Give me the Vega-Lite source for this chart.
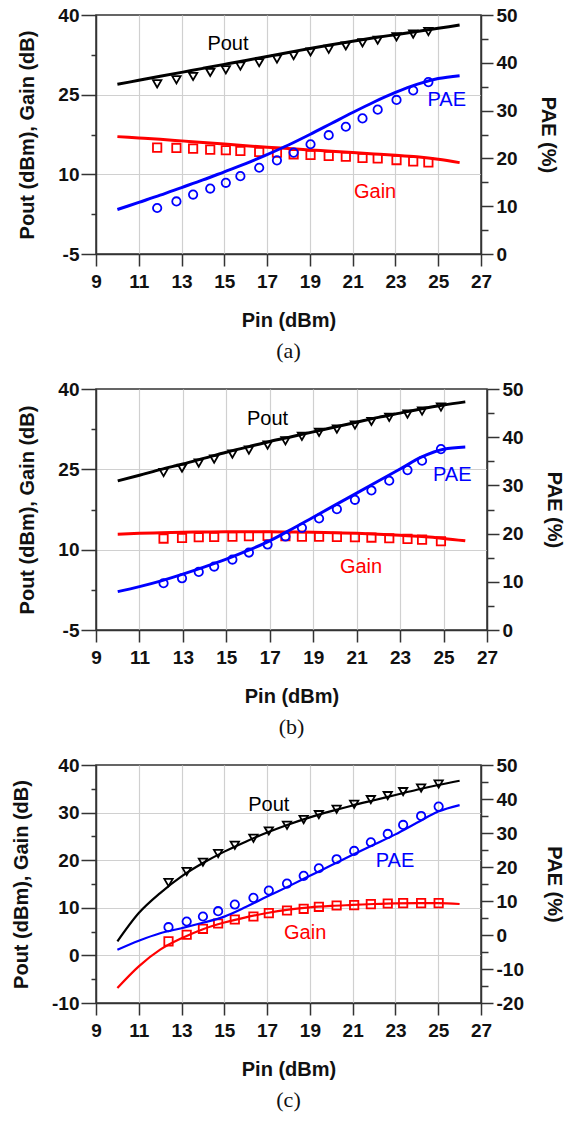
{
"$schema": "https://vega.github.io/schema/vega-lite/v6.json",
"padding": {"left": 10, "top": 5, "right": 5, "bottom": 5},
"background": "white",
"spacing": 16,
"columns": 1,
"config": {
 "view": {"stroke": "#333", "strokeWidth": 1.5},
 "axis": {"domainColor": "#333", "domainWidth": 1.5, "tickColor": "#333", "tickWidth": 1.5, "labelFont": "Liberation Sans", "labelFontSize": 19, "labelFontWeight": "bold", "labelColor": "#111", "titleFont": "Liberation Sans", "titleFontSize": 20, "titleFontWeight": "bold", "titleColor": "#111", "gridColor": "#d0d0d0", "gridWidth": 1.2, "labelOverlap": false, "labelFlush": false, "labelBound": false},
 "title": {"font": "Liberation Serif", "fontSize": 22, "fontWeight": "normal", "color": "#111", "orient": "bottom", "offset": 11, "anchor": "middle", "frame": "group"}
},
"datasets": {
 "La": [
  {"s":"Pout","x":10,"y":26.95},{"s":"Pout","x":11,"y":27.7},{"s":"Pout","x":12,"y":28.45},{"s":"Pout","x":13,"y":29.2},{"s":"Pout","x":14,"y":29.95},{"s":"Pout","x":15,"y":30.7},{"s":"Pout","x":16,"y":31.45},{"s":"Pout","x":17,"y":32.2},{"s":"Pout","x":18,"y":32.95},{"s":"Pout","x":19,"y":33.7},{"s":"Pout","x":20,"y":34.4},{"s":"Pout","x":21,"y":35.05},{"s":"Pout","x":22,"y":35.7},{"s":"Pout","x":23,"y":36.3},{"s":"Pout","x":24,"y":36.9},{"s":"Pout","x":25,"y":37.5},{"s":"Pout","x":26,"y":38.1},
  {"s":"Gain","x":10,"y":17.1},{"s":"Gain","x":11,"y":16.85},{"s":"Gain","x":12,"y":16.6},{"s":"Gain","x":13,"y":16.3},{"s":"Gain","x":14,"y":16.0},{"s":"Gain","x":15,"y":15.7},{"s":"Gain","x":16,"y":15.4},{"s":"Gain","x":17,"y":15.1},{"s":"Gain","x":18,"y":14.85},{"s":"Gain","x":19,"y":14.6},{"s":"Gain","x":20,"y":14.35},{"s":"Gain","x":21,"y":14.1},{"s":"Gain","x":22,"y":13.85},{"s":"Gain","x":23,"y":13.6},{"s":"Gain","x":24,"y":13.3},{"s":"Gain","x":25,"y":12.85},{"s":"Gain","x":26,"y":12.2},
  {"s":"PAE","x":10,"y":9.3},{"s":"PAE","x":11,"y":10.8},{"s":"PAE","x":12,"y":12.3},{"s":"PAE","x":13,"y":13.9},{"s":"PAE","x":14,"y":15.5},{"s":"PAE","x":15,"y":17.2},{"s":"PAE","x":16,"y":18.9},{"s":"PAE","x":17,"y":20.8},{"s":"PAE","x":18,"y":22.8},{"s":"PAE","x":19,"y":25.0},{"s":"PAE","x":20,"y":27.3},{"s":"PAE","x":21,"y":29.6},{"s":"PAE","x":22,"y":31.8},{"s":"PAE","x":23,"y":33.8},{"s":"PAE","x":24,"y":35.5},{"s":"PAE","x":25,"y":36.7},{"s":"PAE","x":26,"y":37.3}
 ],
 "Pa": [
  {"s":"Pout","x":11.86,"y":27.04},{"s":"Pout","x":12.76,"y":27.8},{"s":"Pout","x":13.54,"y":28.43},{"s":"Pout","x":14.34,"y":29.19},{"s":"Pout","x":15.07,"y":29.7},{"s":"Pout","x":15.75,"y":30.39},{"s":"Pout","x":16.63,"y":31.02},{"s":"Pout","x":17.46,"y":31.72},{"s":"Pout","x":18.24,"y":32.35},{"s":"Pout","x":19.03,"y":33.05},{"s":"Pout","x":19.88,"y":33.55},{"s":"Pout","x":20.68,"y":34.18},{"s":"Pout","x":21.46,"y":34.75},{"s":"Pout","x":22.17,"y":35.26},{"s":"Pout","x":23.05,"y":35.89},{"s":"Pout","x":23.83,"y":36.4},{"s":"Pout","x":24.54,"y":36.9},
  {"s":"Gain","x":11.86,"y":15.03},{"s":"Gain","x":12.76,"y":14.97},{"s":"Gain","x":13.54,"y":14.84},{"s":"Gain","x":14.34,"y":14.65},{"s":"Gain","x":15.07,"y":14.53},{"s":"Gain","x":15.75,"y":14.4},{"s":"Gain","x":16.63,"y":14.21},{"s":"Gain","x":17.46,"y":14.08},{"s":"Gain","x":18.24,"y":13.77},{"s":"Gain","x":19.03,"y":13.64},{"s":"Gain","x":19.88,"y":13.45},{"s":"Gain","x":20.68,"y":13.32},{"s":"Gain","x":21.46,"y":13.07},{"s":"Gain","x":22.17,"y":13.0},{"s":"Gain","x":23.05,"y":12.69},{"s":"Gain","x":23.83,"y":12.44},{"s":"Gain","x":24.54,"y":12.25},
  {"s":"PAE","x":11.86,"y":9.62},{"s":"PAE","x":12.76,"y":11.0},{"s":"PAE","x":13.54,"y":12.43},{"s":"PAE","x":14.34,"y":13.69},{"s":"PAE","x":15.07,"y":14.89},{"s":"PAE","x":15.75,"y":16.29},{"s":"PAE","x":16.63,"y":18.05},{"s":"PAE","x":17.46,"y":19.59},{"s":"PAE","x":18.24,"y":21.21},{"s":"PAE","x":19.03,"y":22.96},{"s":"PAE","x":19.88,"y":24.86},{"s":"PAE","x":20.68,"y":26.62},{"s":"PAE","x":21.46,"y":28.37},{"s":"PAE","x":22.17,"y":30.2},{"s":"PAE","x":23.05,"y":32.23},{"s":"PAE","x":23.83,"y":34.2},{"s":"PAE","x":24.54,"y":35.96}
 ],
 "Ta": [{"s":"Pout","x":15.17,"y":34.6},{"s":"Gain","x":22.05,"y":6.7},{"s":"PAE","x":25.4,"y":32.3}],
 "Lb": [
  {"s":"Pout","x":10,"y":22.85},{"s":"Pout","x":11,"y":23.9},{"s":"Pout","x":12,"y":25.0},{"s":"Pout","x":13,"y":26.0},{"s":"Pout","x":14,"y":27.1},{"s":"Pout","x":15,"y":28.2},{"s":"Pout","x":16,"y":29.2},{"s":"Pout","x":17,"y":30.2},{"s":"Pout","x":18,"y":31.1},{"s":"Pout","x":19,"y":32.0},{"s":"Pout","x":20,"y":32.9},{"s":"Pout","x":21,"y":33.8},{"s":"Pout","x":22,"y":34.7},{"s":"Pout","x":23,"y":35.5},{"s":"Pout","x":24,"y":36.3},{"s":"Pout","x":25,"y":37.0},{"s":"Pout","x":26,"y":37.6},
  {"s":"Gain","x":10,"y":12.9},{"s":"Gain","x":11,"y":13.05},{"s":"Gain","x":12,"y":13.15},{"s":"Gain","x":13,"y":13.25},{"s":"Gain","x":14,"y":13.3},{"s":"Gain","x":15,"y":13.35},{"s":"Gain","x":16,"y":13.35},{"s":"Gain","x":17,"y":13.35},{"s":"Gain","x":18,"y":13.3},{"s":"Gain","x":19,"y":13.25},{"s":"Gain","x":20,"y":13.15},{"s":"Gain","x":21,"y":13.05},{"s":"Gain","x":22,"y":12.9},{"s":"Gain","x":23,"y":12.7},{"s":"Gain","x":24,"y":12.45},{"s":"Gain","x":25,"y":12.1},{"s":"Gain","x":26,"y":11.65},
  {"s":"PAE","x":10,"y":7.96},{"s":"PAE","x":11,"y":9.0},{"s":"PAE","x":12,"y":10.2},{"s":"PAE","x":13,"y":11.6},{"s":"PAE","x":14,"y":13.1},{"s":"PAE","x":15,"y":14.7},{"s":"PAE","x":16,"y":16.5},{"s":"PAE","x":17,"y":18.5},{"s":"PAE","x":18,"y":20.9},{"s":"PAE","x":19,"y":23.4},{"s":"PAE","x":20,"y":25.9},{"s":"PAE","x":21,"y":28.4},{"s":"PAE","x":22,"y":30.9},{"s":"PAE","x":23,"y":33.4},{"s":"PAE","x":24,"y":35.9},{"s":"PAE","x":25,"y":37.5},{"s":"PAE","x":26,"y":37.95}
 ],
 "Pb": [
  {"s":"Pout","x":12.11,"y":24.41},{"s":"Pout","x":12.96,"y":25.22},{"s":"Pout","x":13.73,"y":26.16},{"s":"Pout","x":14.44,"y":26.91},{"s":"Pout","x":15.28,"y":27.84},{"s":"Pout","x":16.04,"y":28.59},{"s":"Pout","x":16.9,"y":29.53},{"s":"Pout","x":17.72,"y":30.34},{"s":"Pout","x":18.48,"y":31.15},{"s":"Pout","x":19.27,"y":31.9},{"s":"Pout","x":20.09,"y":32.52},{"s":"Pout","x":20.92,"y":33.27},{"s":"Pout","x":21.68,"y":33.95},{"s":"Pout","x":22.5,"y":34.7},{"s":"Pout","x":23.34,"y":35.32},{"s":"Pout","x":24.01,"y":35.89},{"s":"Pout","x":24.88,"y":36.63},
  {"s":"Gain","x":12.11,"y":12.07},{"s":"Gain","x":12.96,"y":12.19},{"s":"Gain","x":13.73,"y":12.32},{"s":"Gain","x":14.44,"y":12.38},{"s":"Gain","x":15.28,"y":12.44},{"s":"Gain","x":16.04,"y":12.51},{"s":"Gain","x":16.9,"y":12.57},{"s":"Gain","x":17.72,"y":12.51},{"s":"Gain","x":18.48,"y":12.44},{"s":"Gain","x":19.27,"y":12.44},{"s":"Gain","x":20.09,"y":12.38},{"s":"Gain","x":20.92,"y":12.32},{"s":"Gain","x":21.68,"y":12.26},{"s":"Gain","x":22.5,"y":12.13},{"s":"Gain","x":23.34,"y":12.01},{"s":"Gain","x":24.01,"y":11.88},{"s":"Gain","x":24.88,"y":11.57},
  {"s":"PAE","x":12.11,"y":9.7},{"s":"PAE","x":12.96,"y":10.73},{"s":"PAE","x":13.73,"y":12.05},{"s":"PAE","x":14.44,"y":13.16},{"s":"PAE","x":15.28,"y":14.61},{"s":"PAE","x":16.04,"y":16.07},{"s":"PAE","x":16.9,"y":17.73},{"s":"PAE","x":17.72,"y":19.39},{"s":"PAE","x":18.48,"y":21.19},{"s":"PAE","x":19.27,"y":23.13},{"s":"PAE","x":20.09,"y":25.07},{"s":"PAE","x":20.92,"y":27.01},{"s":"PAE","x":21.68,"y":28.95},{"s":"PAE","x":22.5,"y":30.96},{"s":"PAE","x":23.34,"y":33.17},{"s":"PAE","x":24.01,"y":35.11},{"s":"PAE","x":24.88,"y":37.53}
 ],
 "Tb": [{"s":"Pout","x":16.9,"y":34.4},{"s":"Gain","x":21.2,"y":6.8},{"s":"PAE","x":25.4,"y":32.1}],
 "Lc": [
  {"s":"Pout","x":10,"y":2.94},{"s":"Pout","x":11,"y":8.9},{"s":"Pout","x":12,"y":13.1},{"s":"Pout","x":13,"y":16.6},{"s":"Pout","x":14,"y":19.4},{"s":"Pout","x":15,"y":21.8},{"s":"Pout","x":16,"y":23.9},{"s":"Pout","x":17,"y":25.8},{"s":"Pout","x":18,"y":27.5},{"s":"Pout","x":19,"y":29.0},{"s":"Pout","x":20,"y":30.3},{"s":"Pout","x":21,"y":31.5},{"s":"Pout","x":22,"y":32.6},{"s":"Pout","x":23,"y":33.7},{"s":"Pout","x":24,"y":34.8},{"s":"Pout","x":25,"y":35.8},{"s":"Pout","x":26,"y":36.7},
  {"s":"Gain","x":10,"y":-6.85},{"s":"Gain","x":11,"y":-2.3},{"s":"Gain","x":12,"y":1.2},{"s":"Gain","x":13,"y":3.6},{"s":"Gain","x":14,"y":5.5},{"s":"Gain","x":15,"y":6.9},{"s":"Gain","x":16,"y":8.0},{"s":"Gain","x":17,"y":8.9},{"s":"Gain","x":18,"y":9.6},{"s":"Gain","x":19,"y":10.1},{"s":"Gain","x":20,"y":10.4},{"s":"Gain","x":21,"y":10.6},{"s":"Gain","x":22,"y":10.8},{"s":"Gain","x":23,"y":10.95},{"s":"Gain","x":24,"y":11.0},{"s":"Gain","x":25,"y":11.0},{"s":"Gain","x":26,"y":10.8},
  {"s":"PAE","x":10,"y":-4.36},{"s":"PAE","x":11,"y":-1.7},{"s":"PAE","x":12,"y":0.5},{"s":"PAE","x":13,"y":2.0},{"s":"PAE","x":14,"y":3.6},{"s":"PAE","x":15,"y":5.4},{"s":"PAE","x":16,"y":8.2},{"s":"PAE","x":17,"y":11.3},{"s":"PAE","x":18,"y":14.3},{"s":"PAE","x":19,"y":17.4},{"s":"PAE","x":20,"y":20.5},{"s":"PAE","x":21,"y":23.6},{"s":"PAE","x":22,"y":26.6},{"s":"PAE","x":23,"y":29.6},{"s":"PAE","x":24,"y":33.0},{"s":"PAE","x":25,"y":36.3},{"s":"PAE","x":26,"y":38.2}
 ],
 "Pc": [
  {"s":"Pout","x":12.39,"y":15.31},{"s":"Pout","x":13.24,"y":17.62},{"s":"Pout","x":14.0,"y":19.58},{"s":"Pout","x":14.71,"y":21.4},{"s":"Pout","x":15.49,"y":23.15},{"s":"Pout","x":16.36,"y":24.62},{"s":"Pout","x":17.08,"y":26.15},{"s":"Pout","x":17.93,"y":27.34},{"s":"Pout","x":18.71,"y":28.53},{"s":"Pout","x":19.42,"y":29.58},{"s":"Pout","x":20.25,"y":30.7},{"s":"Pout","x":21.07,"y":31.75},{"s":"Pout","x":21.85,"y":32.73},{"s":"Pout","x":22.64,"y":33.57},{"s":"Pout","x":23.36,"y":34.41},{"s":"Pout","x":24.2,"y":35.17},{"s":"Pout","x":25.02,"y":36.01},
  {"s":"Gain","x":12.39,"y":2.94},{"s":"Gain","x":13.24,"y":4.34},{"s":"Gain","x":14.0,"y":5.59},{"s":"Gain","x":14.71,"y":6.71},{"s":"Gain","x":15.49,"y":7.55},{"s":"Gain","x":16.36,"y":8.18},{"s":"Gain","x":17.08,"y":8.88},{"s":"Gain","x":17.93,"y":9.44},{"s":"Gain","x":18.71,"y":9.79},{"s":"Gain","x":19.42,"y":10.21},{"s":"Gain","x":20.25,"y":10.49},{"s":"Gain","x":21.07,"y":10.56},{"s":"Gain","x":21.85,"y":10.77},{"s":"Gain","x":22.64,"y":10.91},{"s":"Gain","x":23.36,"y":10.98},{"s":"Gain","x":24.2,"y":10.98},{"s":"Gain","x":25.02,"y":10.98},
  {"s":"PAE","x":12.39,"y":2.3},{"s":"PAE","x":13.24,"y":3.97},{"s":"PAE","x":14.0,"y":5.44},{"s":"PAE","x":14.71,"y":7.0},{"s":"PAE","x":15.49,"y":8.96},{"s":"PAE","x":16.36,"y":10.92},{"s":"PAE","x":17.08,"y":13.08},{"s":"PAE","x":17.93,"y":15.13},{"s":"PAE","x":18.71,"y":17.39},{"s":"PAE","x":19.42,"y":19.64},{"s":"PAE","x":20.25,"y":22.29},{"s":"PAE","x":21.07,"y":24.73},{"s":"PAE","x":21.85,"y":27.28},{"s":"PAE","x":22.64,"y":29.73},{"s":"PAE","x":23.36,"y":32.37},{"s":"PAE","x":24.2,"y":35.01},{"s":"PAE","x":25.02,"y":37.76}
 ],
 "Tc": [{"s":"Pout","x":17.08,"y":31.5},{"s":"Gain","x":18.78,"y":4.7},{"s":"PAE","x":22.98,"y":21.9}]
},
"concat": [
 {
  "width": 385, "height": 239,
  "title": {"text": "(a)"},
  "layer": [
   {
    "encoding": {
     "x": {"field": "x", "type": "quantitative", "scale": {"domain": [9, 27], "nice": false, "zero": false}, "axis": {"title": "Pin (dBm)", "values": [9,10,11,12,13,14,15,16,17,18,19,20,21,22,23,24,25,26,27], "labelExpr": "datum.value % 2 == 1 ? '' + datum.value : ''", "tickSize": {"condition": {"test": "datum.value % 2 == 1", "value": 12}, "value": 7}, "labelPadding": 6, "titlePadding": 19, "grid": true, "gridOpacity": {"condition": {"test": "datum.value % 2 == 1 && datum.value > 9 && datum.value < 27", "value": 1}, "value": 0}}},
     "y": {"field": "y", "type": "quantitative", "scale": {"domain": [-5, 40], "nice": false, "zero": false}, "axis": {"orient": "left", "title": "Pout (dBm), Gain (dB)", "values": [-5, 2.5, 10, 17.5, 25, 32.5, 40], "labelExpr": "(datum.value + 5) % 15 == 0 ? '' + datum.value : ''", "tickSize": {"condition": {"test": "(datum.value + 5) % 15 == 0", "value": 15}, "value": 5}, "labelPadding": 2, "titlePadding": 20, "grid": true, "gridOpacity": {"condition": {"test": "datum.value == 10 || datum.value == 25", "value": 1}, "value": 0}}}
    },
    "layer": [
     {"data": {"name": "La"}, "transform": [{"filter": "datum.s != 'PAE'"}], "mark": {"type": "line", "strokeWidth": 3, "interpolate": "monotone"}, "encoding": {"color": {"field": "s", "type": "nominal", "scale": {"domain": ["Pout", "Gain", "PAE"], "range": ["#000000", "#ff0000", "#0000ff"]}, "legend": null}}},
     {"data": {"name": "Pa"}, "transform": [{"filter": "datum.s != 'PAE'"}], "mark": {"type": "point", "filled": false, "strokeWidth": 1.8, "size": 70, "opacity": 1}, "encoding": {"color": {"field": "s", "type": "nominal", "legend": null}, "shape": {"field": "s", "type": "nominal", "scale": {"domain": ["Pout", "Gain", "PAE"], "range": ["triangle-down", "square", "circle"]}, "legend": null}}},
     {"data": {"name": "Ta"}, "transform": [{"filter": "datum.s != 'PAE'"}], "mark": {"type": "text", "font": "Liberation Sans", "fontSize": 20, "align": "center", "baseline": "middle"}, "encoding": {"text": {"field": "s"}, "color": {"field": "s", "type": "nominal", "legend": null}}}
    ]
   },
   {
    "encoding": {
     "x": {"field": "x", "type": "quantitative", "scale": {"domain": [9, 27], "nice": false, "zero": false}},
     "y": {"field": "y", "type": "quantitative", "scale": {"domain": [0, 50], "nice": false, "zero": false}, "axis": {"orient": "right", "title": "PAE (%)", "values": [0,5,10,15,20,25,30,35,40,45,50], "labelExpr": "datum.value % 10 == 0 ? '' + datum.value : ''", "tickSize": {"condition": {"test": "datum.value % 10 == 0", "value": 12}, "value": 7}, "labelPadding": 3, "titlePadding": 20, "grid": false}}
    },
    "layer": [
     {"data": {"name": "La"}, "transform": [{"filter": "datum.s == 'PAE'"}], "mark": {"type": "line", "strokeWidth": 3, "interpolate": "monotone"}, "encoding": {"color": {"field": "s", "type": "nominal", "legend": null}}},
     {"data": {"name": "Pa"}, "transform": [{"filter": "datum.s == 'PAE'"}], "mark": {"type": "point", "filled": false, "strokeWidth": 1.8, "size": 70, "opacity": 1}, "encoding": {"color": {"field": "s", "type": "nominal", "legend": null}, "shape": {"field": "s", "type": "nominal", "legend": null}}},
     {"data": {"name": "Ta"}, "transform": [{"filter": "datum.s == 'PAE'"}], "mark": {"type": "text", "font": "Liberation Sans", "fontSize": 20, "align": "center", "baseline": "middle"}, "encoding": {"text": {"field": "s"}, "color": {"field": "s", "type": "nominal", "legend": null}}}
    ]
   }
  ],
  "resolve": {"scale": {"y": "independent"}}
 },
 {
  "width": 391, "height": 241,
  "title": {"text": "(b)"},
  "layer": [
   {
    "encoding": {
     "x": {"field": "x", "type": "quantitative", "scale": {"domain": [9, 27], "nice": false, "zero": false}, "axis": {"title": "Pin (dBm)", "values": [9,10,11,12,13,14,15,16,17,18,19,20,21,22,23,24,25,26,27], "labelExpr": "datum.value % 2 == 1 ? '' + datum.value : ''", "tickSize": {"condition": {"test": "datum.value % 2 == 1", "value": 12}, "value": 7}, "labelPadding": 6, "titlePadding": 19, "grid": true, "gridOpacity": {"condition": {"test": "datum.value % 2 == 1 && datum.value > 9 && datum.value < 27", "value": 1}, "value": 0}}},
     "y": {"field": "y", "type": "quantitative", "scale": {"domain": [-5, 40], "nice": false, "zero": false}, "axis": {"orient": "left", "title": "Pout (dBm), Gain (dB)", "values": [-5, 2.5, 10, 17.5, 25, 32.5, 40], "labelExpr": "(datum.value + 5) % 15 == 0 ? '' + datum.value : ''", "tickSize": {"condition": {"test": "(datum.value + 5) % 15 == 0", "value": 15}, "value": 5}, "labelPadding": 2, "titlePadding": 20, "grid": true, "gridOpacity": {"condition": {"test": "datum.value == 10 || datum.value == 25", "value": 1}, "value": 0}}}
    },
    "layer": [
     {"data": {"name": "Lb"}, "transform": [{"filter": "datum.s != 'PAE'"}], "mark": {"type": "line", "strokeWidth": 3, "interpolate": "monotone"}, "encoding": {"color": {"field": "s", "type": "nominal", "scale": {"domain": ["Pout", "Gain", "PAE"], "range": ["#000000", "#ff0000", "#0000ff"]}, "legend": null}}},
     {"data": {"name": "Pb"}, "transform": [{"filter": "datum.s != 'PAE'"}], "mark": {"type": "point", "filled": false, "strokeWidth": 1.8, "size": 70, "opacity": 1}, "encoding": {"color": {"field": "s", "type": "nominal", "legend": null}, "shape": {"field": "s", "type": "nominal", "scale": {"domain": ["Pout", "Gain", "PAE"], "range": ["triangle-down", "square", "circle"]}, "legend": null}}},
     {"data": {"name": "Tb"}, "transform": [{"filter": "datum.s != 'PAE'"}], "mark": {"type": "text", "font": "Liberation Sans", "fontSize": 20, "align": "center", "baseline": "middle"}, "encoding": {"text": {"field": "s"}, "color": {"field": "s", "type": "nominal", "legend": null}}}
    ]
   },
   {
    "encoding": {
     "x": {"field": "x", "type": "quantitative", "scale": {"domain": [9, 27], "nice": false, "zero": false}},
     "y": {"field": "y", "type": "quantitative", "scale": {"domain": [0, 50], "nice": false, "zero": false}, "axis": {"orient": "right", "title": "PAE (%)", "values": [0,5,10,15,20,25,30,35,40,45,50], "labelExpr": "datum.value % 10 == 0 ? '' + datum.value : ''", "tickSize": {"condition": {"test": "datum.value % 10 == 0", "value": 12}, "value": 7}, "labelPadding": 3, "titlePadding": 20, "grid": false}}
    },
    "layer": [
     {"data": {"name": "Lb"}, "transform": [{"filter": "datum.s == 'PAE'"}], "mark": {"type": "line", "strokeWidth": 3, "interpolate": "monotone"}, "encoding": {"color": {"field": "s", "type": "nominal", "legend": null}}},
     {"data": {"name": "Pb"}, "transform": [{"filter": "datum.s == 'PAE'"}], "mark": {"type": "point", "filled": false, "strokeWidth": 1.8, "size": 70, "opacity": 1}, "encoding": {"color": {"field": "s", "type": "nominal", "legend": null}, "shape": {"field": "s", "type": "nominal", "legend": null}}},
     {"data": {"name": "Tb"}, "transform": [{"filter": "datum.s == 'PAE'"}], "mark": {"type": "text", "font": "Liberation Sans", "fontSize": 20, "align": "center", "baseline": "middle"}, "encoding": {"text": {"field": "s"}, "color": {"field": "s", "type": "nominal", "legend": null}}}
    ]
   }
  ],
  "resolve": {"scale": {"y": "independent"}}
 },
 {
  "width": 385, "height": 238,
  "title": {"text": "(c)"},
  "layer": [
   {
    "encoding": {
     "x": {"field": "x", "type": "quantitative", "scale": {"domain": [9, 27], "nice": false, "zero": false}, "axis": {"title": "Pin (dBm)", "values": [9,10,11,12,13,14,15,16,17,18,19,20,21,22,23,24,25,26,27], "labelExpr": "datum.value % 2 == 1 ? '' + datum.value : ''", "tickSize": {"condition": {"test": "datum.value % 2 == 1", "value": 12}, "value": 7}, "labelPadding": 6, "titlePadding": 19, "grid": true, "gridOpacity": {"condition": {"test": "datum.value % 2 == 1 && datum.value > 9 && datum.value < 27", "value": 1}, "value": 0}}},
     "y": {"field": "y", "type": "quantitative", "scale": {"domain": [-10, 40], "nice": false, "zero": false}, "axis": {"orient": "left", "title": "Pout (dBm), Gain (dB)", "values": [-10, -5, 0, 5, 10, 15, 20, 25, 30, 35, 40], "labelExpr": "datum.value % 10 == 0 ? '' + datum.value : ''", "tickSize": {"condition": {"test": "datum.value % 10 == 0", "value": 15}, "value": 5}, "labelPadding": 2, "titlePadding": 20, "grid": true, "gridOpacity": {"condition": {"test": "datum.value % 10 == 0 && datum.value > -10 && datum.value < 40", "value": 1}, "value": 0}}}
    },
    "layer": [
     {"data": {"name": "Lc"}, "transform": [{"filter": "datum.s != 'PAE'"}], "mark": {"type": "line", "strokeWidth": 2.2, "interpolate": "monotone"}, "encoding": {"color": {"field": "s", "type": "nominal", "scale": {"domain": ["Pout", "Gain", "PAE"], "range": ["#000000", "#ff0000", "#0000ff"]}, "legend": null}}},
     {"data": {"name": "Pc"}, "transform": [{"filter": "datum.s != 'PAE'"}], "mark": {"type": "point", "filled": false, "strokeWidth": 1.8, "size": 70, "opacity": 1}, "encoding": {"color": {"field": "s", "type": "nominal", "legend": null}, "shape": {"field": "s", "type": "nominal", "scale": {"domain": ["Pout", "Gain", "PAE"], "range": ["triangle-down", "square", "circle"]}, "legend": null}}},
     {"data": {"name": "Tc"}, "transform": [{"filter": "datum.s != 'PAE'"}], "mark": {"type": "text", "font": "Liberation Sans", "fontSize": 20, "align": "center", "baseline": "middle"}, "encoding": {"text": {"field": "s"}, "color": {"field": "s", "type": "nominal", "legend": null}}}
    ]
   },
   {
    "encoding": {
     "x": {"field": "x", "type": "quantitative", "scale": {"domain": [9, 27], "nice": false, "zero": false}},
     "y": {"field": "y", "type": "quantitative", "scale": {"domain": [-20, 50], "nice": false, "zero": false}, "axis": {"orient": "right", "title": "PAE (%)", "values": [-20,-15,-10,-5,0,5,10,15,20,25,30,35,40,45,50], "labelExpr": "datum.value % 10 == 0 ? '' + datum.value : ''", "tickSize": {"condition": {"test": "datum.value % 10 == 0", "value": 12}, "value": 7}, "labelPadding": 3, "titlePadding": 20, "grid": false}}
    },
    "layer": [
     {"data": {"name": "Lc"}, "transform": [{"filter": "datum.s == 'PAE'"}], "mark": {"type": "line", "strokeWidth": 2.2, "interpolate": "monotone"}, "encoding": {"color": {"field": "s", "type": "nominal", "legend": null}}},
     {"data": {"name": "Pc"}, "transform": [{"filter": "datum.s == 'PAE'"}], "mark": {"type": "point", "filled": false, "strokeWidth": 1.8, "size": 70, "opacity": 1}, "encoding": {"color": {"field": "s", "type": "nominal", "legend": null}, "shape": {"field": "s", "type": "nominal", "legend": null}}},
     {"data": {"name": "Tc"}, "transform": [{"filter": "datum.s == 'PAE'"}], "mark": {"type": "text", "font": "Liberation Sans", "fontSize": 20, "align": "center", "baseline": "middle"}, "encoding": {"text": {"field": "s"}, "color": {"field": "s", "type": "nominal", "legend": null}}}
    ]
   }
  ],
  "resolve": {"scale": {"y": "independent"}}
 }
]
}
